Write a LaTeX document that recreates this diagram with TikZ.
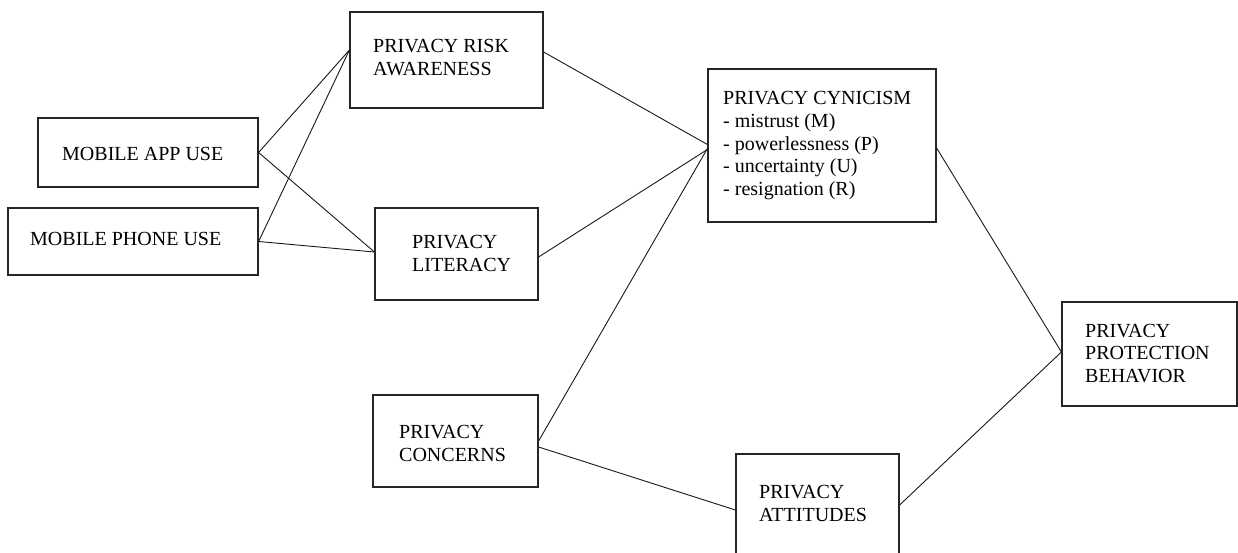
\documentclass[tikz,border=0pt]{standalone}
\usepackage{fontspec}
\setmainfont{Liberation Serif}
\begin{document}
\begin{tikzpicture}[x=1pt,y=-1pt,
  boxnode/.style={draw=black!85,line width=1.2pt,rectangle,inner sep=0pt,fill=none},
  txt/.style={anchor=base west,inner sep=0pt,align=left,font=\fontsize{20pt}{22.7pt}\selectfont},
  link/.style={draw=black!90,line width=0.9pt}]
\useasboundingbox (0,0) rectangle (1238,552);
\clip (0,0) rectangle (1238,552);
\fill[white] (0,0) rectangle (1238,552);
% boxes
\node[boxnode,minimum width=193pt,minimum height=96pt] (risk) at (446.5,60) {};
\node[boxnode,minimum width=220pt,minimum height=69pt] (app) at (148,152.5) {};
\node[boxnode,minimum width=250pt,minimum height=67pt] (phone) at (133,241.5) {};
\node[boxnode,minimum width=163pt,minimum height=92pt] (lit) at (456.5,254) {};
\node[boxnode,minimum width=228pt,minimum height=153pt] (cyn) at (822,145.5) {};
\node[boxnode,minimum width=175pt,minimum height=104pt] (prot) at (1149.5,354) {};
\node[boxnode,minimum width=165pt,minimum height=92pt] (conc) at (455.5,441) {};
\node[boxnode,minimum width=163pt,minimum height=112pt] (att) at (817.5,510) {};
% texts (anchor: baseline of the last line)
\node[txt] (trisk) at (373,75) {PRIVACY RISK\\AWARENESS};
\node[txt] (tapp) at (62,160) {MOBILE APP USE};
\node[txt] (tphone) at (30,245) {MOBILE PHONE USE};
\node[txt] (tlit) at (412,271) {PRIVACY\\LITERACY};
\node[txt] (tcyn) at (723,195.5) {PRIVACY CYNICISM\\- mistrust (M)\\- powerlessness (P)\\- uncertainty (U)\\- resignation (R)};
\node[txt] (tprot) at (1085,382.5) {PRIVACY\\PROTECTION\\BEHAVIOR};
\node[txt] (tconc) at (399,461) {PRIVACY\\CONCERNS};
\node[txt] (tatt) at (759,521) {PRIVACY\\ATTITUDES};
% connectors
\coordinate (riskin) at ([yshift=10pt]risk.west);
\draw[link] (app.east) -- (riskin);
\draw[link] (app.east) -- ([yshift=2pt]lit.west);
\draw[link] (phone.east) -- (riskin);
\draw[link] (phone.east) -- ([yshift=2pt]lit.west);
\draw[link] ([yshift=8pt]risk.east) -- ([yshift=1pt]cyn.west);
\draw[link] ([yshift=-3pt]lit.east) -- ([yshift=-4pt]cyn.west);
\draw[link] (conc.east) -- ([yshift=-3pt]cyn.west);
\draw[link] ([yshift=-6pt]conc.east) -- (att.west);
\draw[link] ([yshift=-2.5pt]cyn.east) -- ([yshift=2pt]prot.west);
\draw[link] ([yshift=5pt]att.east) -- ([yshift=2pt]prot.west);
\end{tikzpicture}
\end{document}
